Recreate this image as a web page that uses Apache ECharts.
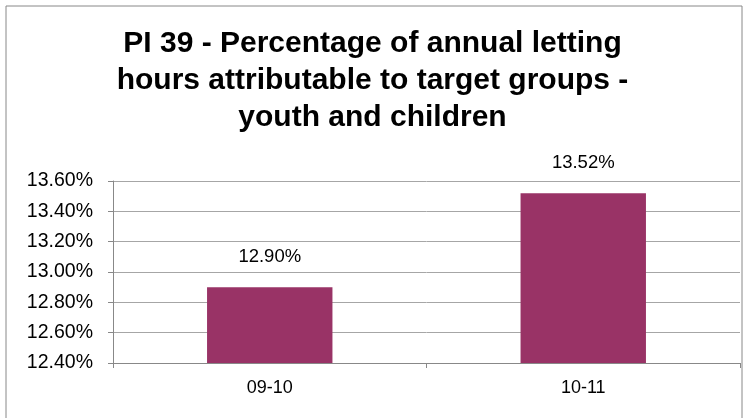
<!DOCTYPE html>
<html><head><meta charset="utf-8">
<script src="https://cdn.jsdelivr.net/npm/echarts@6/dist/echarts.min.js"></script>
<style>html,body{margin:0;padding:0;background:#fff}#c{width:745px;height:418px}</style>
</head><body><div id="c"></div>
<script>
const categories = ['09-10', '10-11'];
const values = [12.90, 13.52];
const titleText = 'PI 39 - Percentage of annual letting\nhours attributable to target groups -\nyouth and children';
const chart = echarts.init(document.getElementById('c'));
chart.setOption({
  animation: false,
  backgroundColor: '#fff',
  title: {
    text: titleText, left: 'center', top: 20,
    textStyle: {fontFamily: 'Liberation Sans', fontWeight: 'bold', fontSize: 30, lineHeight: 37, color: '#000'}
  },
  graphic: [{type: 'rect', shape: {x: 6, y: 6, width: 736, height: 420}, style: {fill: 'none', stroke: '#888', lineWidth: 1}}],
  grid: {left: 113, right: 5, top: 181, bottom: 55},
  xAxis: {
    type: 'category', data: categories,
    axisLine: {lineStyle: {color: '#888'}},
    axisTick: {show: true, length: 5, lineStyle: {color: '#888'}},
    axisLabel: {fontFamily: 'Liberation Sans', fontSize: 18, color: '#000', margin: 16}
  },
  yAxis: {
    type: 'value', min: 12.4, max: 13.6, interval: 0.2,
    axisLine: {show: true, lineStyle: {color: '#888'}},
    axisTick: {show: true, length: 5, lineStyle: {color: '#888'}},
    splitLine: {lineStyle: {color: '#a6a6a6'}},
    axisLabel: {fontFamily: 'Liberation Sans', fontSize: 19.5, color: '#000', margin: 20,
      formatter: v => v.toFixed(2) + '%'}
  },
  series: [{
    type: 'bar', data: values, barWidth: '40%',
    itemStyle: {color: '#993366'},
    label: {show: true, position: 'top', distance: 21, fontFamily: 'Liberation Sans', fontSize: 18.5, color: '#000',
      formatter: p => p.value.toFixed(2) + '%'}
  }]
});
</script></body></html>
